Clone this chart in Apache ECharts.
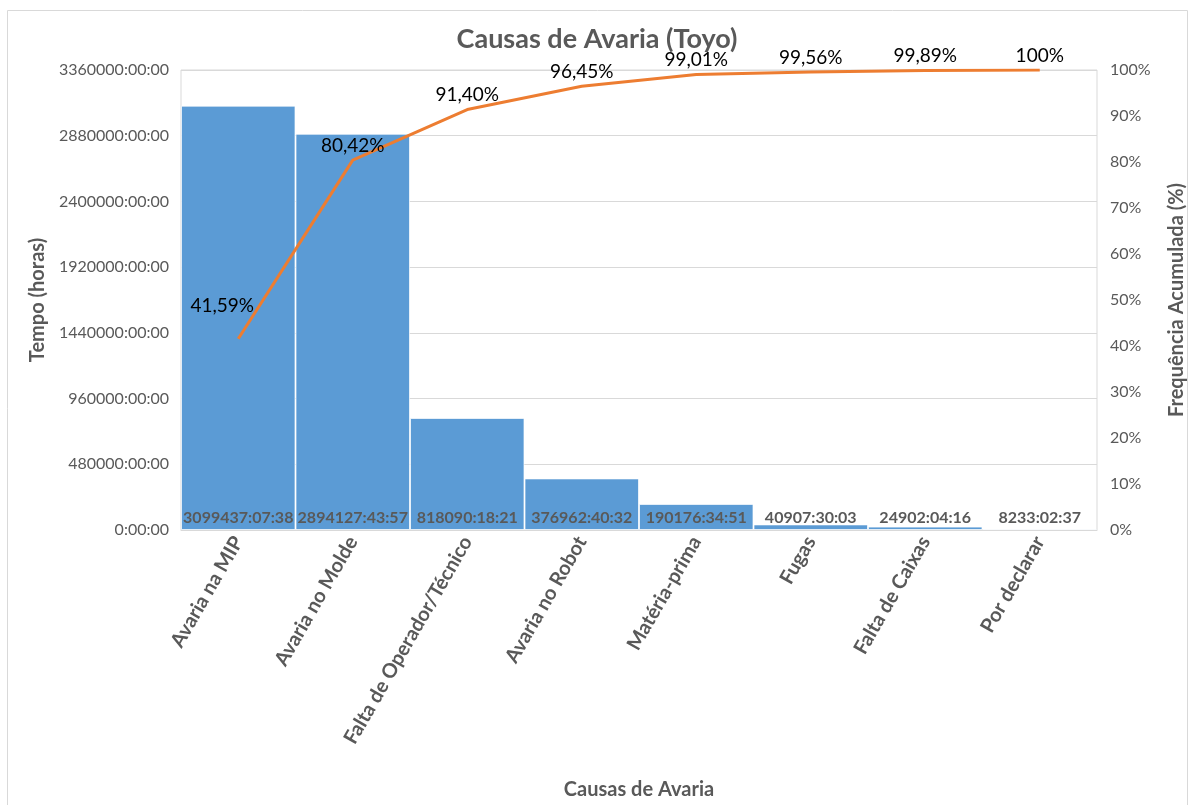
<!DOCTYPE html>
<html>
<head>
<meta charset="utf-8">
<script src="https://cdn.jsdelivr.net/npm/echarts@6/dist/echarts.min.js"></script>
<style>
  html, body { margin: 0; padding: 0; background: #fff; }
  #chart { width: 1194px; height: 805px; }
</style>
</head>
<body>
<div id="chart"></div>
<script>
// Causas de avaria, ordenadas por tempo total (Pareto)
const categories = [
  'Avaria na MIP', 'Avaria no Molde', 'Falta de Operador/Técnico', 'Avaria no Robot',
  'Matéria-prima', 'Fugas', 'Falta de Caixas', 'Por declarar'
];
// Tempo total de cada causa, em h:mm:ss
const durations = [
  '3099437:07:38', '2894127:43:57', '818090:18:21', '376962:40:32',
  '190176:34:51', '40907:30:03', '24902:04:16', '8233:02:37'
];
// Frequência acumulada (%)
const cumulative = [41.59, 80.42, 91.40, 96.45, 99.01, 99.56, 99.89, 100];
// Marcas do eixo do tempo (horas)
const timeTicks = [0, 480000, 960000, 1440000, 1920000, 2400000, 2880000, 3360000];

const toHours = s => {
  const [h, m, sec] = s.split(':').map(Number);
  return h + m / 60 + sec / 3600;
};
const hours = durations.map(toHours);

const font = 'Lato, "Open Sans", sans-serif';
const gray = '#595959';

const chart = echarts.init(document.getElementById('chart'));
chart.setOption({
  animation: false,
  textStyle: { fontFamily: font },
  title: {
    text: 'Causas de Avaria (Toyo)',
    left: 'center',
    top: 21,
    textStyle: { fontFamily: font, fontSize: 27, fontWeight: 'bold', color: gray }
  },
  graphic: [{
    type: 'rect',
    shape: { x: 7.5, y: 10.5, width: 1180, height: 800 },
    style: { fill: 'none', stroke: '#d9d9d9', lineWidth: 1 },
    silent: true
  }],
  grid: {
    left: 181, right: 97, top: 70, bottom: 275,
    outerBoundsMode: 'none',
    show: true, borderColor: '#d9d9d9', borderWidth: 1
  },
  xAxis: {
    type: 'category',
    data: categories,
    name: 'Causas de Avaria',
    nameLocation: 'middle',
    nameGap: 250,
    nameTextStyle: { fontFamily: font, fontSize: 20, fontWeight: 'bold', color: gray },
    axisLine: { lineStyle: { color: '#d9d9d9' } },
    axisTick: { show: false },
    axisLabel: {
      rotate: 60, interval: 0, margin: 8,
      fontFamily: font, fontSize: 20, fontWeight: 'bold', color: gray
    }
  },
  yAxis: [{
    type: 'value',
    min: timeTicks[0],
    max: timeTicks[timeTicks.length - 1],
    interval: timeTicks[1] - timeTicks[0],
    name: 'Tempo (horas)',
    nameLocation: 'middle',
    nameGap: 131,
    nameTextStyle: { fontFamily: font, fontSize: 20, fontWeight: 'bold', color: gray },
    axisLine: { show: false },
    axisTick: { show: false },
    axisLabel: {
      margin: 12, fontFamily: font, fontSize: 16, color: gray,
      formatter: v => v + ':00:00'
    },
    splitLine: { lineStyle: { color: '#d9d9d9', width: 1 } }
  }, {
    type: 'value',
    min: 0, max: 100, interval: 10,
    name: 'Frequência Acumulada (%)',
    nameLocation: 'middle',
    nameGap: 70,
    nameTextStyle: { fontFamily: font, fontSize: 20, fontWeight: 'bold', color: gray },
    axisLine: { show: false },
    axisTick: { show: false },
    axisLabel: { margin: 13, fontFamily: font, fontSize: 16, color: gray, formatter: '{value}%' },
    splitLine: { show: false }
  }],
  series: [{
    type: 'bar',
    data: hours,
    barCategoryGap: 0,
    itemStyle: { color: '#5B9BD5', borderColor: 'rgba(255,255,255,0.7)', borderWidth: 1 },
    label: {
      show: true,
      position: 'insideBottom',
      distance: 4,
      fontFamily: font, fontSize: 16, fontWeight: 'bold', color: gray,
      formatter: p => durations[p.dataIndex]
    }
  }, {
    type: 'line',
    yAxisIndex: 1,
    data: cumulative.map((v, i) => i === 0
      ? { value: v, label: { offset: [-16, -18] } }
      : v),
    symbol: 'circle',
    symbolSize: 0,
    showSymbol: true,
    lineStyle: { color: '#ED7D31', width: 3 },
    itemStyle: { color: '#ED7D31' },
    label: {
      show: true,
      position: 'top',
      distance: 5,
      fontFamily: font, fontSize: 19, color: '#000',
      formatter: p => (p.value === 100 ? '100' : p.value.toFixed(2).replace('.', ',')) + '%'
    }
  }]
});
</script>
</body>
</html>
